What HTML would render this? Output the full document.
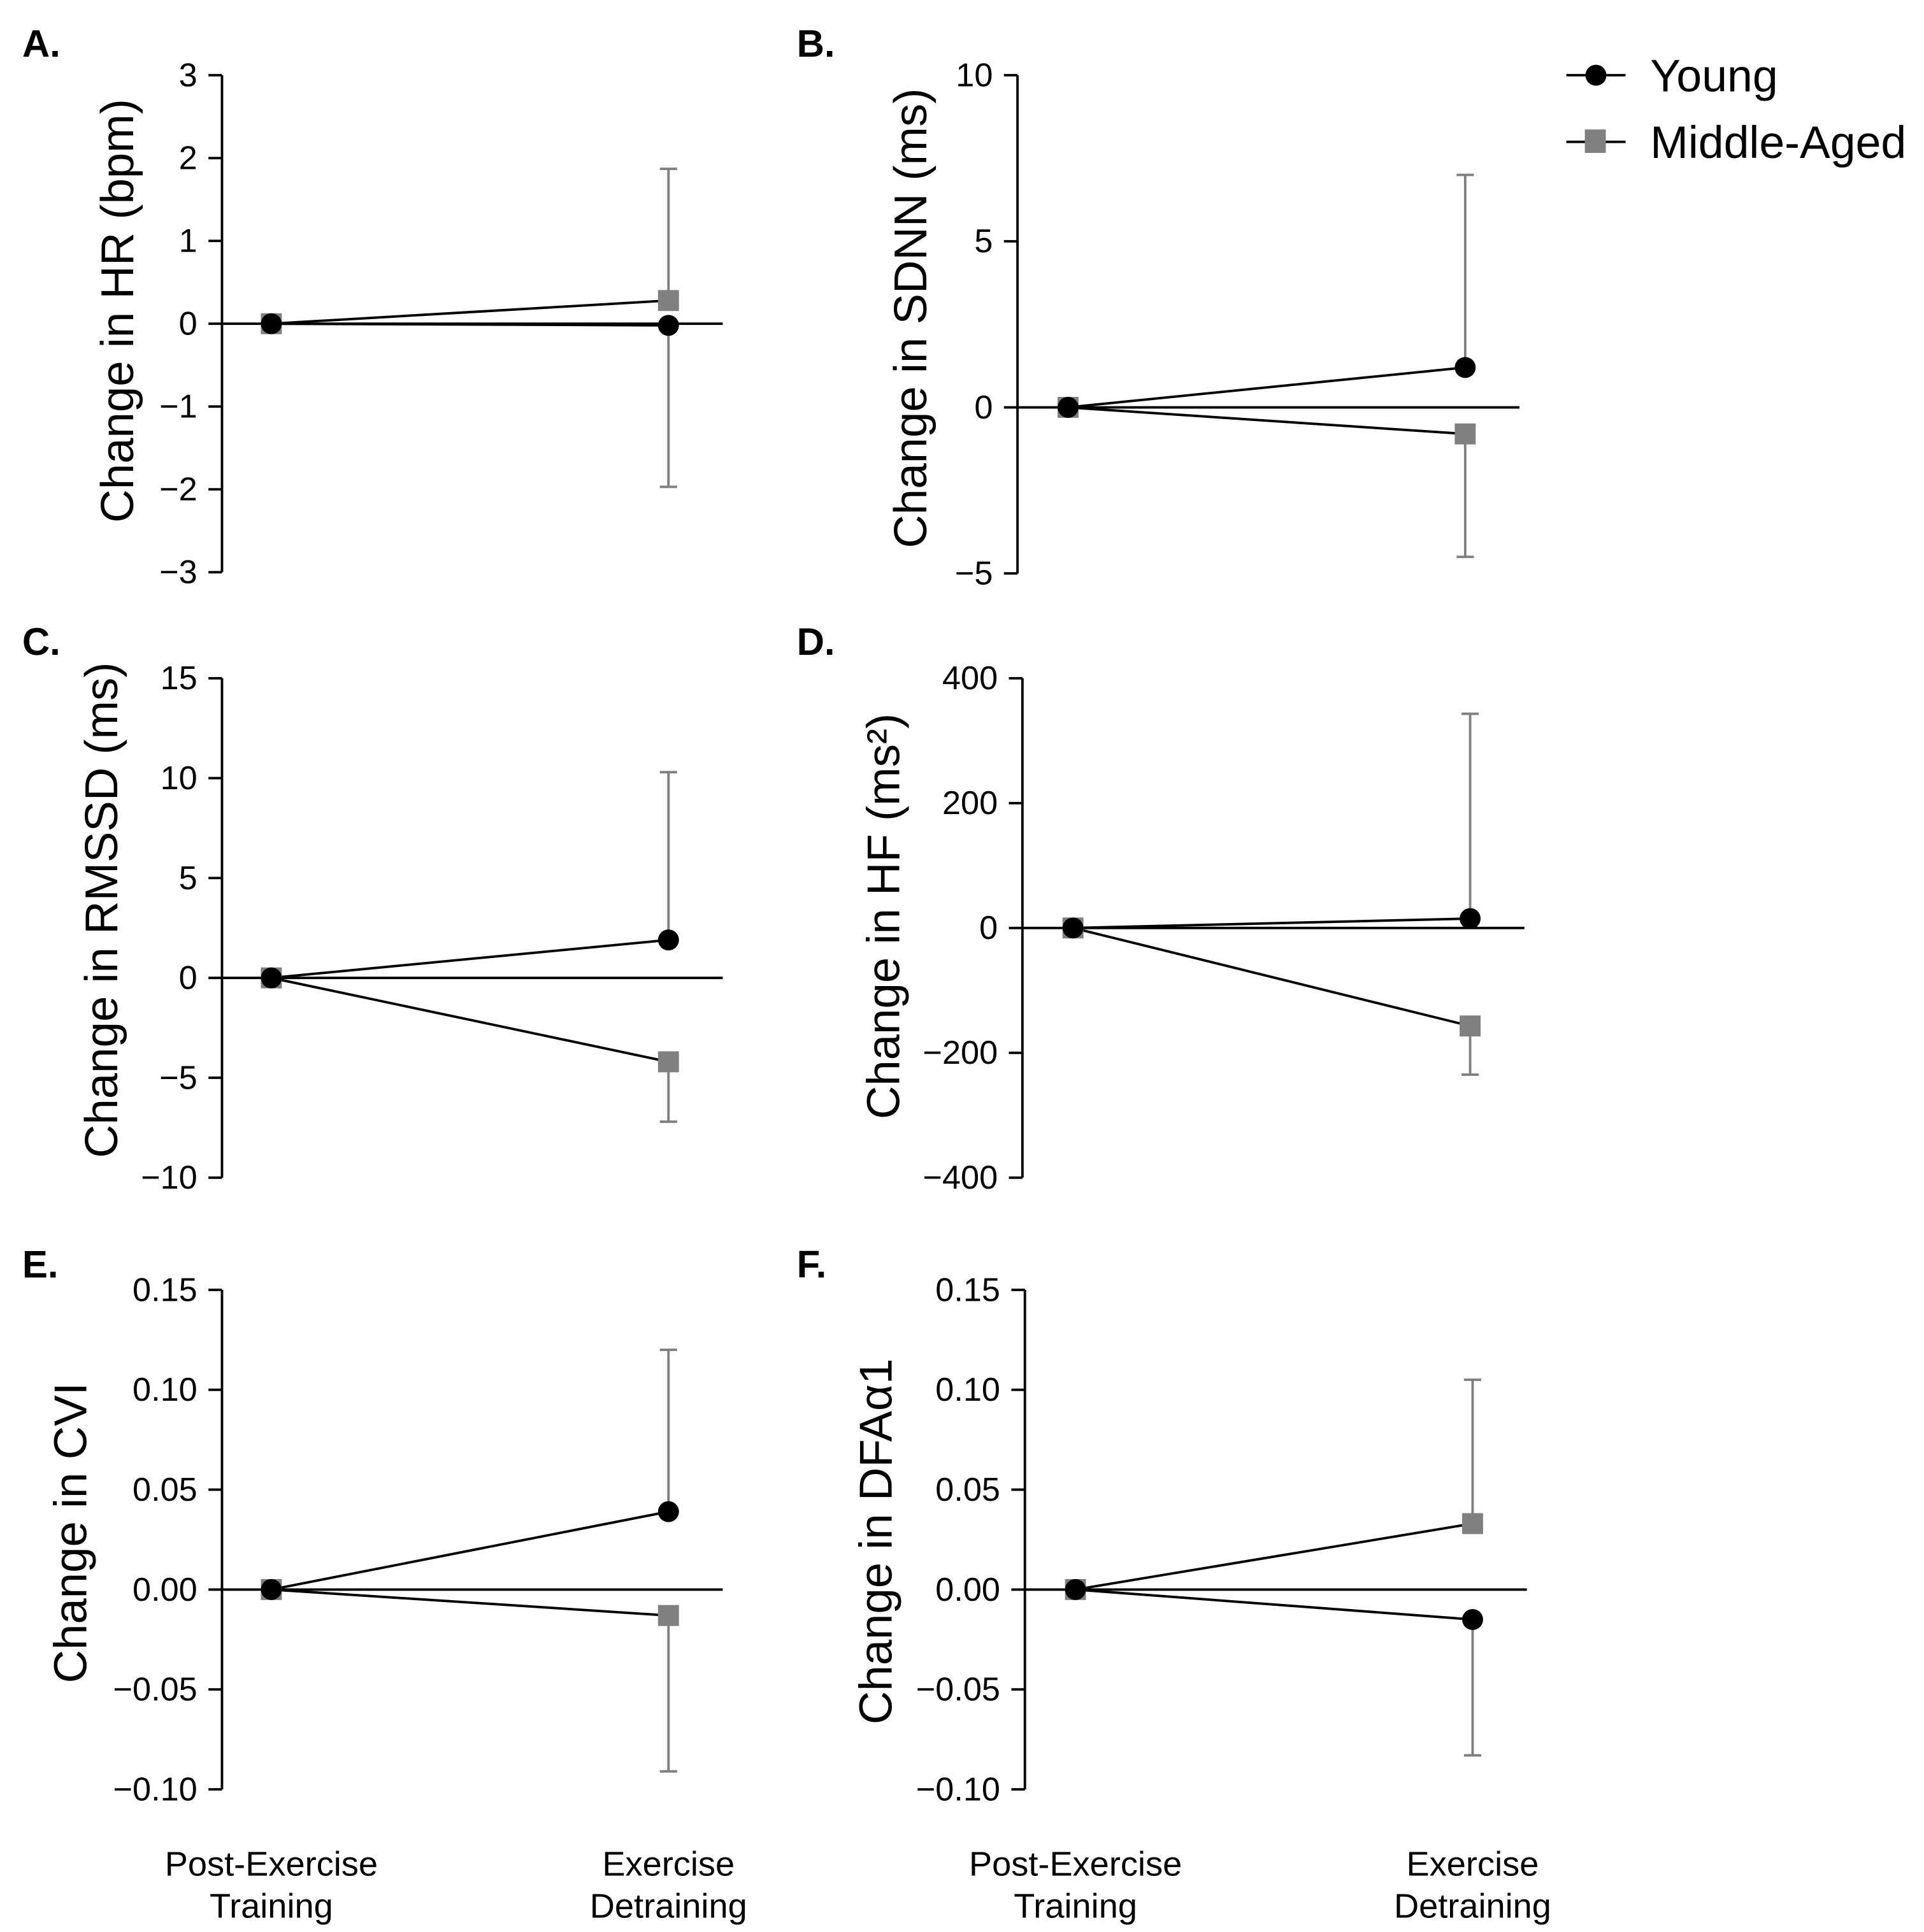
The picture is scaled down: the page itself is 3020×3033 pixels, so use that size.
<!DOCTYPE html>
<html><head><meta charset="utf-8"><style>
html,body{margin:0;padding:0;background:#fff;}
svg{display:block;font-family:"Liberation Sans",Arial,sans-serif;}
</style></head><body>
<svg id="fig" width="3020" height="3033" viewBox="0 0 1560 1566.7" xmlns="http://www.w3.org/2000/svg">
<g>
 <g>
  <line x1="1270" y1="61" x2="1318" y2="61" stroke="#000" stroke-width="2"/>
  <circle cx="1294" cy="61" r="8.5" fill="#000"/>
  <text x="1338" y="74" font-size="37">Young</text>
 </g>
 <g>
  <line x1="1270" y1="115" x2="1318" y2="115" stroke="#000" stroke-width="2"/>
  <rect x="1285" y="105" width="17" height="19" fill="#808080"/>
  <text x="1338" y="128" font-size="37">Middle-Aged</text>
 </g>
</g>
</svg>
<script>
const categories = ["Post-Exercise Training", "Exercise Detraining"];
const panelLetters = ["A.", "B.", "C.", "D.", "E.", "F."];
const yTitles = ["Change in HR (bpm)", "Change in SDNN (ms)", "Change in RMSSD (ms)", "Change in HF (ms²)", "Change in CVI", "Change in DFAα1"];
const yTicksA = [3, 2, 1, 0, -1, -2, -3];
const yTicksB = [10, 5, 0, -5];
const yTicksC = [15, 10, 5, 0, -5, -10];
const yTicksD = [400, 200, 0, -200, -400];
const yTicksE = [0.15, 0.10, 0.05, 0.00, -0.05, -0.10];
const yTicksF = [0.15, 0.10, 0.05, 0.00, -0.05, -0.10];
const youngA = [0, -0.02], middleA = [0, 0.28], youngErrA = [null, -1.97], middleErrA = [null, 1.87];
const youngB = [0, 1.2], middleB = [0, -0.8], youngErrB = [null, 7.0], middleErrB = [null, -4.5];
const youngC = [0, 1.9], middleC = [0, -4.2], youngErrC = [null, 10.3], middleErrC = [null, -7.2];
const youngD = [0, 15], middleD = [0, -157], youngErrD = [null, 343], middleErrD = [null, -235];
const youngE = [0, 0.039], middleE = [0, -0.013], youngErrE = [null, 0.12], middleErrE = [null, -0.091];
const youngF = [0, -0.015], middleF = [0, 0.033], youngErrF = [null, -0.083], middleErrF = [null, 0.105];

const layouts = [
 {ax:180, top:61, bot:464, x0:220, x1:542, end:586, tx:95, ty:252, lx:18, ly:46, dec:0},
 {ax:825, top:61, bot:465, x0:866, x1:1188, end:1232, tx:738, ty:258, lx:646, ly:46, dec:0},
 {ax:180, top:550, bot:955, x0:220, x1:542, end:586, tx:82, ty:738, lx:18, ly:531, dec:0},
 {ax:829, top:550, bot:955, x0:870, x1:1192, end:1236, tx:716, ty:743, lx:646, ly:531, dec:0},
 {ax:180, top:1046, bot:1451, x0:220, x1:542, end:586, tx:57, ty:1243, lx:18, ly:1036, dec:2},
 {ax:831, top:1046, bot:1451, x0:872, x1:1194, end:1238, tx:710, ty:1250, lx:646, ly:1036, dec:2}
];
const ticksAll = [yTicksA, yTicksB, yTicksC, yTicksD, yTicksE, yTicksF];
const youngAll = [youngA, youngB, youngC, youngD, youngE, youngF];
const middleAll = [middleA, middleB, middleC, middleD, middleE, middleF];
const yErrAll = [youngErrA, youngErrB, youngErrC, youngErrD, youngErrE, youngErrF];
const mErrAll = [middleErrA, middleErrB, middleErrC, middleErrD, middleErrE, middleErrF];

const NS = "http://www.w3.org/2000/svg";
const svg = document.getElementById('fig');
function mk(tag, attrs, parent){const e=document.createElementNS(NS,tag);for(const k in attrs)e.setAttribute(k,attrs[k]);parent.appendChild(e);return e;}
function fmt(v,d){const s=Math.abs(v).toFixed(d);return v<0?'\u2212'+s:s;}

layouts.forEach((L,i)=>{
 const ticks=ticksAll[i];
 const ymax=ticks[0], ymin=ticks[ticks.length-1];
 const y=v=>L.top+(ymax-v)/(ymax-ymin)*(L.bot-L.top);
 const xs=[L.x0,L.x1];
 const g=mk('g',{},svg);
 
 
 const lab=mk('text',{x:L.lx,y:L.ly,'font-size':31,'font-weight':'bold'},g);
 lab.textContent=panelLetters[i];
 
 
 const ax=mk('line',{x1:L.ax,y1:L.top,x2:L.ax,y2:L.bot,stroke:'#000','stroke-width':2},g);
 
 
 ticks.forEach(t=>{
  const tk=mk('line',{x1:L.ax-11,y1:y(t),x2:L.ax,y2:y(t),stroke:'#000','stroke-width':2},g);
  
  
  const tl=mk('text',{x:L.ax-20,y:y(t)+9,'font-size':27,'text-anchor':'end'},g);
  tl.textContent=fmt(t,L.dec);
  
  
 });
 const tt=mk('text',{x:L.tx,y:L.ty,'font-size':37.5,'text-anchor':'middle',transform:`rotate(-90 ${L.tx} ${L.ty})`,dy:13},g);
 tt.textContent=yTitles[i];
 
 
 const zl=mk('line',{x1:L.ax,y1:y(0),x2:L.end,y2:y(0),stroke:'#000','stroke-width':2},g);
 
 
 [[yErrAll[i],youngAll[i]],[mErrAll[i],middleAll[i]]].forEach(([err,vals],s)=>{
  err.forEach((e,j)=>{
   if(e===null)return;
   const eg=mk('g',{stroke:'#808080','stroke-width':2},g);
   
   
   mk('line',{x1:xs[j],y1:y(vals[j]),x2:xs[j],y2:y(e)},eg);
   mk('line',{x1:xs[j]-7,y1:y(e),x2:xs[j]+7,y2:y(e)},eg);
  });
 });
 [youngAll[i],middleAll[i]].forEach((vals,s)=>{
  const pl=mk('polyline',{points:vals.map((v,j)=>xs[j]+','+y(v)).join(' '),fill:'none',stroke:'#000','stroke-width':2},g);
  
  
 });
 middleAll[i].forEach((v,j)=>{
  const r=mk('rect',{x:xs[j]-8.5,y:y(v)-8.5,width:17,height:17,fill:'#808080'},g);
  
  
 });
 youngAll[i].forEach((v,j)=>{
  const c=mk('circle',{cx:xs[j],cy:y(v),r:8.5,fill:'#000'},g);
  
  
 });
 if(i>=4){
  categories.forEach((c,j)=>{
   const parts = j===0?['Post-Exercise','Training']:['Exercise','Detraining'];
   parts.forEach((p,k)=>{
    const t=mk('text',{x:xs[j],y:1521+k*34,'font-size':28,'text-anchor':'middle'},g);
    t.textContent=p;
    
    
   });
  });
 }
});
</script>
</body></html>
